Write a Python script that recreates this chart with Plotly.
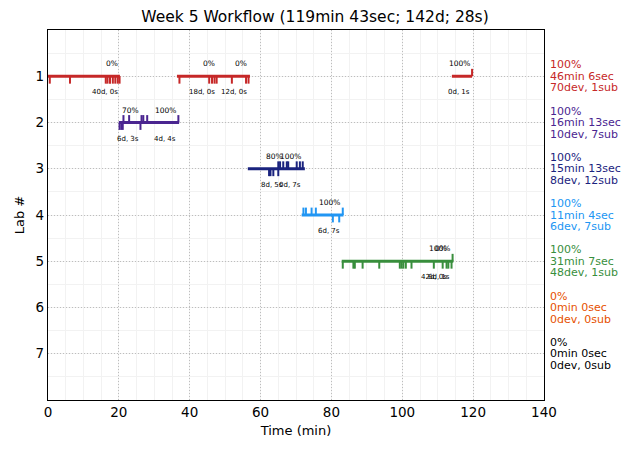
import plotly.graph_objects as go

# ---------------- data ----------------
labs = [1, 2, 3, 4, 5, 6, 7]
lab_colors = ["#c62828", "#4a2590", "#1a237e", "#2196f3", "#388e3c", "#e65100", "#000000"]

# session spans (start, end) in minutes, per lab
session_start = [[0.0, 36.4, 114.0], [20.0], [56.4], [71.6], [82.9], [], []]
session_end = [[20.3, 57.0, 119.7], [37.0], [72.5], [83.4], [114.4], [], []]

# device (download) times -> downward ticks
device_times = [
    [0.5, 6.2, 16.3, 16.8, 17.5, 18.3, 19.0, 19.7, 20.2,
     37.1, 45.5, 46.3, 47.0, 47.6, 51.9, 55.9, 56.6],
    [20.2, 20.7, 21.1, 26.1],
    [62.4, 62.8, 63.6, 65.0],
    [80.4, 82.2],
    [83.2, 86.2, 86.6, 88.8, 93.5, 99.3, 99.8, 100.3, 101.0, 102.6,
     108.9, 111.4, 112.5, 113.0, 113.9],
    [],
    [],
]
# submission times -> upward ticks
submission_times = [
    [119.7],
    [21.3, 22.9, 26.4, 26.9, 28.0, 36.8],
    [65.0, 65.5, 66.4, 67.4, 67.8, 70.2, 71.1, 71.9],
    [72.1, 72.8, 74.4, 75.6, 83.2],
    [114.2],
    [],
    [],
]

# per-attempt labels (right-aligned at x)
attempt_x = [[20.3, 47.7, 56.6, 119.7], [26.2, 36.7], [66.9, 72.0], [82.9], [113.1, 114.0], [], []]
attempt_pct = [["0%", "0%", "0%", "100%"], ["70%", "100%"], ["80%", "100%"], ["100%"], ["0%", "100%"], [], []]
attempt_counts = [["40d, 0s", "18d, 0s", "12d, 0s", "0d, 1s"], ["6d, 3s", "4d, 4s"],
                  ["8d, 5s", "0d, 7s"], ["6d, 7s"], ["42d, 0s", "6d, 1s"], [], []]

# summaries on the right
summary_pct = ["100%", "100%", "100%", "100%", "100%", "0%", "0%"]
summary_time = ["46min 6sec", "16min 13sec", "15min 13sec", "11min 4sec", "31min 7sec", "0min 0sec", "0min 0sec"]
summary_devsub = ["70dev, 1sub", "10dev, 7sub", "8dev, 12sub", "6dev, 7sub", "48dev, 1sub", "0dev, 0sub", "0dev, 0sub"]

title_text = "Week 5 Workflow (119min 43sec; 142d; 28s)"
x_ticks = [0, 20, 40, 60, 80, 100, 120, 140]

# ---------------- figure ----------------
FONT = "DejaVu Sans"
TICK = 0.16
fig = go.Figure()

for i, lab in enumerate(labs):
    col = lab_colors[i]
    xs, ys = [], []
    for s, e in zip(session_start[i], session_end[i]):
        xs += [s, e, None]
        ys += [lab, lab, None]
    if xs:
        fig.add_trace(go.Scatter(x=xs, y=ys, mode="lines", line=dict(color=col, width=3),
                                 hoverinfo="skip", showlegend=False))
    xs, ys = [], []
    for t in device_times[i]:
        xs += [t, t, None]
        ys += [lab, lab + TICK, None]
    for t in submission_times[i]:
        xs += [t, t, None]
        ys += [lab, lab - TICK, None]
    if xs:
        fig.add_trace(go.Scatter(x=xs, y=ys, mode="lines", line=dict(color=col, width=2),
                                 hoverinfo="skip", showlegend=False))
    for ax_, pct, cnt in zip(attempt_x[i], attempt_pct[i], attempt_counts[i]):
        fig.add_annotation(x=ax_, y=lab - 0.27, text=pct, showarrow=False, xanchor="right",
                           yanchor="middle", font=dict(family=FONT, size=7.5, color="black"))
        fig.add_annotation(x=ax_, y=lab + 0.35, text=cnt, showarrow=False, xanchor="right",
                           yanchor="middle", font=dict(family=FONT, size=7, color="black"))
    for k, txt in enumerate([summary_pct[i], summary_time[i], summary_devsub[i]]):
        fig.add_annotation(xref="paper", x=1.008, y=lab, yshift=(1 - k) * 11.5, text=txt,
                           showarrow=False, xanchor="left", yanchor="middle",
                           font=dict(family=FONT, size=11, color=lab_colors[i]))

fig.update_layout(
    width=630, height=453,
    margin=dict(l=48, r=86, t=30, b=53, autoexpand=False),
    paper_bgcolor="white", plot_bgcolor="white",
    font=dict(family=FONT, size=13.5, color="black"),
    title=dict(text=title_text, x=0.5, xanchor="center", y=0.963, yanchor="middle",
               font=dict(family=FONT, size=15.5, color="black")),
    showlegend=False,
)
fig.update_xaxes(
    range=[0, 140], tickvals=x_ticks, ticks="", showline=True, linecolor="black", linewidth=1.2,
    mirror=True, showgrid=True, gridcolor="#bdbdbd", griddash="1px,2px", gridwidth=1,
    minor=dict(dtick=5, showgrid=True, gridcolor="#f2f2f2", gridwidth=1, griddash="solid"),
    title=dict(text="Time (min)", standoff=6, font=dict(size=13)), zeroline=False,
)
fig.update_yaxes(
    range=[8, 0], tickvals=labs, ticks="", showline=True, linecolor="black", linewidth=1.2,
    mirror=True, showgrid=True, gridcolor="#bdbdbd", griddash="1px,2px", gridwidth=1,
    minor=dict(dtick=0.5, showgrid=True, gridcolor="#f2f2f2", gridwidth=1, griddash="solid"),
    title=dict(text="Lab #", standoff=8, font=dict(size=13)), zeroline=False,
)

fig.write_html("out.html", config={"displayModeBar": False},
               post_script="document.body.style.margin='0';document.body.style.padding='0';")
